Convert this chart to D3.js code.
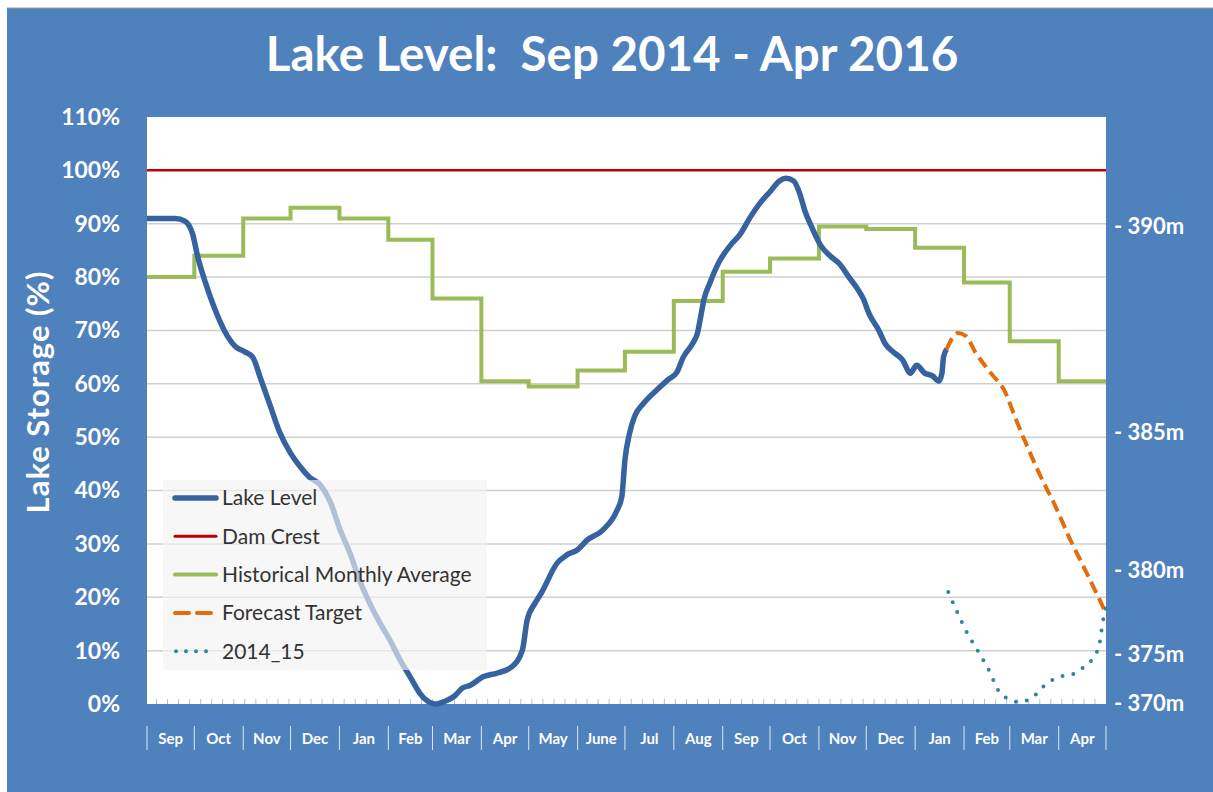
<!DOCTYPE html>
<html>
<head>
<meta charset="utf-8">
<script src="https://cdn.jsdelivr.net/npm/d3@7"></script>
<style>
  body { margin: 0; background: #fff; }
  text { font-family: Lato, "Open Sans", sans-serif; }
</style>
</head>
<body>
<div id="viz"></div>
<script>
const width = 1213;
const height = 792;
const margin = { top: 117, right: 107, bottom: 88, left: 147 };

// month labels under the chart (Sep 2014 .. Apr 2016)
const monthLabels = ["Sep", "Oct", "Nov", "Dec", "Jan", "Feb", "Mar", "Apr", "May", "June",
  "Jul", "Aug", "Sep", "Oct", "Nov", "Dec", "Jan", "Feb", "Mar", "Apr"];

// lake storage %
const lakeDates = ["2014-09-01", "2014-09-09", "2014-09-19", "2014-09-25", "2014-09-30", "2014-10-03",
  "2014-10-08", "2014-10-14", "2014-10-20", "2014-10-27", "2014-11-02", "2014-11-07", "2014-11-12",
  "2014-11-18", "2014-11-24", "2014-12-01", "2014-12-07", "2014-12-13", "2014-12-20", "2014-12-26",
  "2015-01-01", "2015-01-08", "2015-01-14", "2015-01-20", "2015-01-27", "2015-02-02", "2015-02-08",
  "2015-02-15", "2015-02-21", "2015-02-26", "2015-03-03", "2015-03-09", "2015-03-15", "2015-03-20",
  "2015-03-25", "2015-04-02", "2015-04-11", "2015-04-20", "2015-04-27", "2015-04-30", "2015-05-05",
  "2015-05-09", "2015-05-19", "2015-05-25", "2015-06-01", "2015-06-07", "2015-06-17", "2015-06-26",
  "2015-06-29", "2015-07-01", "2015-07-04", "2015-07-07", "2015-07-13", "2015-07-21", "2015-07-28",
  "2015-08-03", "2015-08-07", "2015-08-13", "2015-08-16", "2015-08-18", "2015-08-20", "2015-08-24",
  "2015-08-30", "2015-09-06", "2015-09-12", "2015-09-18", "2015-09-25", "2015-10-01", "2015-10-07",
  "2015-10-11", "2015-10-16", "2015-10-20", "2015-10-23", "2015-10-28", "2015-11-02", "2015-11-08",
  "2015-11-14", "2015-11-20", "2015-11-25", "2015-11-29", "2015-12-03", "2015-12-09", "2015-12-13",
  "2015-12-18", "2015-12-24", "2015-12-29", "2016-01-02", "2016-01-07", "2016-01-12", "2016-01-16",
  "2016-01-18", "2016-01-19", "2016-01-21"];
const lakeValues = [91, 91, 91, 90.5, 88, 84,
  79, 74, 70, 67, 66, 65, 61,
  56, 51, 47, 44.5, 42.5, 41, 38,
  33, 28, 23, 19, 15, 12, 8.5,
  5, 2, 0.5, 0, 0.5, 1.5, 3,
  3.5, 5.1, 5.8, 6.9, 10.1, 15.7, 18.9,
  20.8, 26.4, 27.9, 28.9, 30.7, 32.6, 36.3,
  38.8, 45.7, 50.8, 53.8, 56.4, 58.8, 60.7,
  62.2, 65, 67.6, 69.5, 72.5, 75.7, 79,
  83, 86, 88, 91, 94, 96, 98,
  98.5, 98, 95.5, 92.5, 89, 86, 84,
  82.5, 80, 78, 76, 73, 70, 67.5,
  66, 64.5, 62, 63.5, 62, 61.5, 60.5,
  62, 65, 66.5];

// historical monthly average (one value per month, step)
const histMonths = ["2014-09-01", "2014-10-01", "2014-11-01", "2014-12-01", "2015-01-01", "2015-02-01",
  "2015-03-01", "2015-04-01", "2015-05-01", "2015-06-01", "2015-07-01", "2015-08-01", "2015-09-01",
  "2015-10-01", "2015-11-01", "2015-12-01", "2016-01-01", "2016-02-01", "2016-03-01", "2016-04-01",
  "2016-05-01"];
const histValues = [80, 84, 91, 93, 91, 87, 76, 60.5, 59.5, 62.5, 66, 75.5, 81, 83.5, 89.5, 89,
  85.5, 79, 68, 60.5, 60.5];

const damCrest = 100;

const forecastDates = ["2016-01-21", "2016-01-28", "2016-02-02", "2016-02-08", "2016-02-18", "2016-02-27",
  "2016-03-04", "2016-03-11", "2016-03-20", "2016-03-30", "2016-04-08", "2016-04-18", "2016-04-27", "2016-05-01"];
const forecastValues = [66.5, 69.5, 69, 66, 62, 58.5, 54, 49, 43, 37, 31, 25, 19.5, 17];

const prevDates = ["2016-01-22", "2016-01-28", "2016-02-03", "2016-02-10", "2016-02-17", "2016-02-23",
  "2016-02-28", "2016-03-06", "2016-03-12", "2016-03-18", "2016-03-22", "2016-03-28", "2016-04-03",
  "2016-04-10", "2016-04-16", "2016-04-21", "2016-04-25", "2016-04-27", "2016-04-28", "2016-04-29", "2016-05-01"];
const prevValues = [21, 17, 13.3, 9.8, 6.2, 2.4, 1.1, 0.4, 0.7, 1.9, 3.2, 4.5, 5.2, 5.6, 6.7, 7.9,
  9.6, 11.4, 13.5, 15.4, 18];

// right side level labels and the storage % they sit at
const levelLabels = ["- 390m", "- 385m", "- 380m", "- 375m", "- 370m"];
const levelAt = [89.6, 51, 25.1, 9.4, 0.2];

const yTicks = [0, 10, 20, 30, 40, 50, 60, 70, 80, 90, 100, 110];

const legendNames = ["Lake Level", "Dam Crest", "Historical Monthly Average", "Forecast Target", "2014_15"];

const parse = d3.timeParse("%Y-%m-%d");
const zip = (ds, vs) => ds.map((d, i) => ({ date: parse(d), value: vs[i] }));

const lake = zip(lakeDates, lakeValues);
const hist = zip(histMonths, histValues);
const forecast = zip(forecastDates, forecastValues);
const prev = zip(prevDates, prevValues);

const x = d3.scaleTime()
  .domain([parse("2014-09-01"), parse("2016-05-01")])
  .range([margin.left, width - margin.right]);
const y = d3.scaleLinear()
  .domain([0, 110])
  .range([height - margin.bottom, margin.top]);

const svg = d3.select("#viz").append("svg")
  .attr("width", width)
  .attr("height", height);

// blue panel
svg.append("rect")
  .attr("x", 7).attr("y", 8)
  .attr("width", width - 7).attr("height", height - 8)
  .attr("fill", "#4f81bd");
svg.append("line")
  .attr("x1", 7).attr("x2", width).attr("y1", 8).attr("y2", 8)
  .attr("stroke", "#9a9a9a").attr("stroke-width", 1);

// plot area
svg.append("rect")
  .attr("x", margin.left).attr("y", margin.top)
  .attr("width", width - margin.left - margin.right)
  .attr("height", height - margin.top - margin.bottom)
  .attr("fill", "#fff");

svg.append("text")
  .attr("x", 612).attr("y", 71)
  .attr("text-anchor", "middle")
  .attr("fill", "#fff")
  .attr("font-size", 47.5)
  .attr("font-weight", "bold")
  .style("white-space", "pre")
  .text("Lake Level:  Sep 2014 - Apr 2016");

// gridlines
svg.append("g")
  .selectAll("line")
  .data(yTicks.filter(t => t > 0 && t < 100))
  .join("line")
    .attr("x1", margin.left).attr("x2", width - margin.right)
    .attr("y1", d => y(d)).attr("y2", d => y(d))
    .attr("stroke", "#cfcfcf").attr("stroke-width", 1.5);

// weekly minor ticks on the bottom
const weekTicks = d3.timeWeek.range(x.domain()[0], x.domain()[1]);
svg.append("g")
  .selectAll("line")
  .data(weekTicks)
  .join("line")
    .attr("x1", d => x(d)).attr("x2", d => x(d))
    .attr("y1", y(0) - 5).attr("y2", y(0))
    .attr("stroke", "#bdbdbd").attr("stroke-width", 1);

// left axis
const yAxis = svg.append("g")
  .attr("transform", `translate(${margin.left - 24},0)`)
  .call(d3.axisLeft(y).tickValues(yTicks).tickFormat(d => d + "%").tickSize(0));
yAxis.select(".domain").remove();
yAxis.selectAll("text")
  .attr("fill", "#fff")
  .attr("font-size", 23)
  .attr("font-weight", "bold")
  .attr("font-family", "Lato, sans-serif");

svg.append("text")
  .attr("transform", "translate(49,392) rotate(-90)")
  .attr("text-anchor", "middle")
  .attr("fill", "#fff")
  .attr("font-size", 31)
  .attr("font-weight", "bold")
  .attr("letter-spacing", 1)
  .text("Lake Storage (%)");

// month band axis
const months = d3.timeMonth.range(x.domain()[0], x.domain()[1]);
const sepG = svg.append("g");
sepG.selectAll("line")
  .data(months.concat([x.domain()[1]]))
  .join("line")
    .attr("x1", d => x(d)).attr("x2", d => x(d))
    .attr("y1", 726).attr("y2", 750)
    .attr("stroke", "#dce6f2").attr("stroke-width", 1);
sepG.selectAll("text")
  .data(months)
  .join("text")
    .attr("x", d => (x(d) + x(d3.timeMonth.offset(d, 1))) / 2)
    .attr("y", 744)
    .attr("text-anchor", "middle")
    .attr("fill", "#fff")
    .attr("font-size", 15)
    .attr("font-weight", "bold")
    .text((d, i) => monthLabels[i]);

// right level labels
svg.append("g")
  .selectAll("text")
  .data(levelLabels)
  .join("text")
    .attr("x", 1114)
    .attr("y", (d, i) => y(levelAt[i]))
    .attr("dy", "0.35em")
    .attr("fill", "#fff")
    .attr("font-size", 22)
    .attr("font-weight", "bold")
    .text(d => d);

const line = d3.line()
  .x(d => x(d.date))
  .y(d => y(d.value));

// series
svg.append("line")
  .attr("x1", margin.left).attr("x2", width - margin.right)
  .attr("y1", y(damCrest)).attr("y2", y(damCrest))
  .attr("stroke", "#c00000").attr("stroke-width", 2.5);

svg.append("path")
  .datum(hist)
  .attr("d", line.curve(d3.curveStepAfter))
  .attr("fill", "none")
  .attr("stroke", "#9bbb59")
  .attr("stroke-width", 4);

line.curve(d3.curveMonotoneX);

svg.append("path")
  .datum(lake)
  .attr("d", line)
  .attr("fill", "none")
  .attr("stroke", "#3762a0")
  .attr("stroke-width", 5.5)
  .attr("stroke-linejoin", "round");

svg.append("path")
  .datum(forecast)
  .attr("d", line)
  .attr("fill", "none")
  .attr("stroke", "#e46c0a")
  .attr("stroke-width", 4)
  .attr("stroke-dasharray", "12,6");

svg.append("path")
  .datum(prev)
  .attr("d", line)
  .attr("fill", "none")
  .attr("stroke", "#31849b")
  .attr("stroke-width", 4)
  .attr("stroke-linecap", "round")
  .attr("stroke-dasharray", "0,11");

// legend (semi transparent box over the lines)
const legend = svg.append("g");
legend.append("rect")
  .attr("x", 163).attr("y", 480)
  .attr("width", 324).attr("height", 190)
  .attr("fill", "#f2f2f2").attr("opacity", 0.65);

const swatch = [
  { color: "#3762a0", w: 5.5, dash: null },
  { color: "#c00000", w: 3, dash: null },
  { color: "#9bbb59", w: 4, dash: null },
  { color: "#e46c0a", w: 4, dash: "14,8" },
  { color: "#31849b", w: 4, dash: "0,10" }
];
const rows = legend.selectAll("g")
  .data(legendNames)
  .join("g")
    .attr("transform", (d, i) => `translate(0,${498 + i * 38.3})`);
rows.append("line")
  .attr("x1", (d, i) => i === 4 ? 176 : 175).attr("x2", (d, i) => i === 4 ? 212 : 216)
  .attr("stroke", (d, i) => swatch[i].color)
  .attr("stroke-width", (d, i) => swatch[i].w)
  .attr("stroke-linecap", "round")
  .attr("stroke-dasharray", (d, i) => swatch[i].dash);
rows.append("text")
  .attr("x", 222)
  .attr("dy", "0.35em")
  .attr("fill", "#333")
  .attr("font-size", 21)
  .text(d => d);
</script>
</body>
</html>
